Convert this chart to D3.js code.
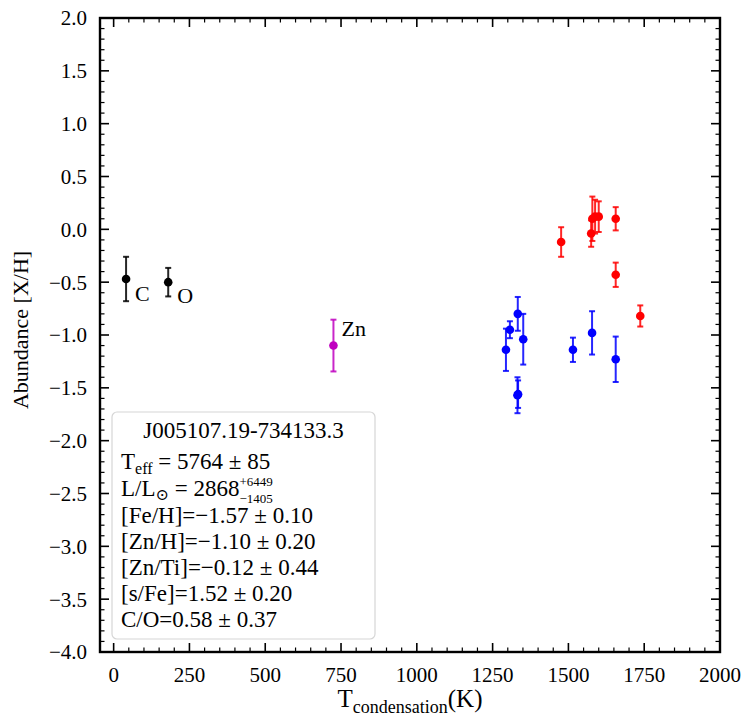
<!DOCTYPE html>
<html>
<head>
<meta charset="utf-8">
<script src="https://cdn.jsdelivr.net/npm/d3@7"></script>
<style>
  body { margin: 0; background: #fff; }
  text { font-family: "Liberation Serif", "DejaVu Serif", serif; fill: #000; }
</style>
</head>
<body>
<div id="chart"></div>
<script>
'use strict';

// C and O (black)
var blackT = [41, 180];
var blackAb = [-0.47, -0.50];
var blackErr = [0.21, 0.135];
var blackLabels = ['C', 'O'];

// Zn (magenta)
var znT = [725];
var znAb = [-1.10];
var znErr = [0.245];
var znLabels = ['Zn'];

// blue group
var blueT = [1294, 1307, 1333, 1351, 1332, 1334, 1515, 1578, 1656];
var blueAb = [-1.14, -0.95, -0.80, -1.04, -1.57, -1.56, -1.14, -0.98, -1.23];
var blueErr = [0.20, 0.08, 0.16, 0.24, 0.17, 0.13, 0.115, 0.205, 0.215];

// red group
var redT = [1476, 1575, 1579, 1588, 1600, 1656, 1656, 1737];
var redAb = [-0.12, -0.04, 0.10, 0.12, 0.12, 0.10, -0.43, -0.82];
var redErr = [0.14, 0.125, 0.21, 0.16, 0.145, 0.11, 0.115, 0.10];

var xTicks = [0, 250, 500, 750, 1000, 1250, 1500, 1750, 2000];
var yTicks = [2.0, 1.5, 1.0, 0.5, 0.0, -0.5, -1.0, -1.5, -2.0, -2.5, -3.0, -3.5, -4.0];

var W = 751, H = 725;
var margin = {top: 18, right: 31, bottom: 73, left: 100};
var width = W - margin.left - margin.right;
var height = H - margin.top - margin.bottom;

var svg = d3.select('#chart').append('svg')
  .attr('width', W)
  .attr('height', H);

var g = svg.append('g')
  .attr('transform', 'translate(' + margin.left + ',' + margin.top + ')');

var x = d3.scaleLinear().domain([-45, 2000]).range([0, width]);
var y = d3.scaleLinear().domain([-4, 2]).range([height, 0]);

var fmtY = function(d) { return d3.format('.1f')(d).replace('-', '\u2212'); };

// inward ticks on all four sides
function drawTicks() {
  var majorLen = 9, minorLen = 4.5;
  var xMinor = d3.range(0, 2001, 50).filter(function(d) { return d % 250 !== 0; });
  var yMinor = d3.range(-40, 21, 1).map(function(d) { return d / 10; })
    .filter(function(d) { return Math.abs(Math.round(d * 10) % 5) !== 0; });

  var t = g.append('g').attr('stroke', '#000');
  [[xTicks, majorLen, 1.6], [xMinor, minorLen, 1.2]].forEach(function(s) {
    t.selectAll(null).data(s[0]).enter().append('line')
      .attr('x1', x).attr('x2', x)
      .attr('y1', height).attr('y2', height - s[1])
      .attr('stroke-width', s[2]);
    t.selectAll(null).data(s[0]).enter().append('line')
      .attr('x1', x).attr('x2', x)
      .attr('y1', 0).attr('y2', s[1])
      .attr('stroke-width', s[2]);
  });
  [[yTicks, majorLen, 1.6], [yMinor, minorLen, 1.2]].forEach(function(s) {
    t.selectAll(null).data(s[0]).enter().append('line')
      .attr('y1', y).attr('y2', y)
      .attr('x1', 0).attr('x2', s[1])
      .attr('stroke-width', s[2]);
    t.selectAll(null).data(s[0]).enter().append('line')
      .attr('y1', y).attr('y2', y)
      .attr('x1', width).attr('x2', width - s[1])
      .attr('stroke-width', s[2]);
  });

  g.append('g').selectAll('text').data(xTicks).enter().append('text')
    .attr('x', x).attr('y', height + 30)
    .attr('text-anchor', 'middle')
    .style('font-size', '21px')
    .text(function(d) { return d; });

  g.append('g').selectAll('text').data(yTicks).enter().append('text')
    .attr('x', -13).attr('y', y).attr('dy', '0.35em')
    .attr('text-anchor', 'end')
    .style('font-size', '21px')
    .text(fmtY);
}

function drawGroup(ts, abs, errs, color) {
  var data = ts.map(function(t, i) { return {t: t, ab: abs[i], err: errs[i]}; });
  var grp = g.append('g');
  var bars = grp.selectAll('g.eb').data(data).enter().append('g')
    .attr('stroke', color).attr('stroke-width', 2).attr('stroke-opacity', 0.85);
  bars.append('line')
    .attr('x1', function(d) { return x(d.t); }).attr('x2', function(d) { return x(d.t); })
    .attr('y1', function(d) { return y(d.ab + d.err); })
    .attr('y2', function(d) { return y(d.ab - d.err); });
  [1, -1].forEach(function(s) {
    bars.append('line')
      .attr('x1', function(d) { return x(d.t) - 3; })
      .attr('x2', function(d) { return x(d.t) + 3; })
      .attr('y1', function(d) { return y(d.ab + s * d.err); })
      .attr('y2', function(d) { return y(d.ab + s * d.err); });
  });
  grp.selectAll('circle').data(data).enter().append('circle')
    .attr('cx', function(d) { return x(d.t); })
    .attr('cy', function(d) { return y(d.ab); })
    .attr('r', 4.3)
    .attr('fill', color);
  return data;
}

drawTicks();

drawGroup(blackT, blackAb, blackErr, '#000');
drawGroup(znT, znAb, znErr, '#bf00bf');
drawGroup(blueT, blueAb, blueErr, '#0000ff');
drawGroup(redT, redAb, redErr, '#ff0000');

// element labels
var labelOffsets = [[9, 22], [9, 21]];
g.selectAll('text.lab').data(blackLabels).enter().append('text')
  .attr('class', 'lab')
  .attr('x', function(d, i) { return x(blackT[i]) + labelOffsets[i][0]; })
  .attr('y', function(d, i) { return y(blackAb[i]) + labelOffsets[i][1]; })
  .style('font-size', '22px')
  .text(function(d) { return d; });
g.append('text')
  .attr('x', x(znT[0]) + 8).attr('y', y(znAb[0]) - 10)
  .style('font-size', '22px')
  .text(znLabels[0]);

// frame
g.append('rect')
  .attr('width', width).attr('height', height)
  .attr('fill', 'none').attr('stroke', '#000').attr('stroke-width', 2.4);

// axis titles
var xl = g.append('text')
  .attr('x', width / 2).attr('y', height + 55)
  .attr('text-anchor', 'middle')
  .style('font-size', '25px');
xl.append('tspan').text('T');
xl.append('tspan').attr('dy', 6).style('font-size', '18px').text('condensation');
xl.append('tspan').attr('dy', -6).text('(K)');

g.append('text')
  .attr('transform', 'translate(' + (-72) + ',' + (height / 2 - 5) + ') rotate(-90)')
  .attr('text-anchor', 'middle')
  .style('font-size', '22px')
  .text('Abundance [X/H]');

// info box
var bx = 12, by = 394, bw = 263, bh = 227;
var box = g.append('g').attr('transform', 'translate(' + bx + ',' + by + ')');
box.append('rect')
  .attr('width', bw).attr('height', bh)
  .attr('rx', 5).attr('ry', 5)
  .attr('fill', '#fff').attr('fill-opacity', 0.85)
  .attr('stroke', '#d6d6d6').attr('stroke-width', 1.2);

var fs = '23px', lx = 9;
box.append('text')
  .attr('x', bw / 2).attr('y', 26)
  .attr('text-anchor', 'middle')
  .style('font-size', fs)
  .text('J005107.19-734133.3');

var t1 = box.append('text').attr('x', lx).attr('y', 57).style('font-size', fs);
t1.append('tspan').text('T');
t1.append('tspan').attr('dy', 5).style('font-size', '16px').text('eff');
t1.append('tspan').attr('dy', -5).text(' = 5764 \u00b1 85');

var t2 = box.append('text').attr('x', lx).attr('y', 84).style('font-size', fs);
t2.append('tspan').text('L/L');
t2.append('tspan').attr('dy', 4).style('font-size', '16px').text('\u2299');
t2.append('tspan').attr('dy', -4).text(' = 2868');
t2.append('tspan').attr('dy', -10).style('font-size', '13px').text('+6449');
var sub = box.append('text').attr('y', 91).style('font-size', '13px').text('\u22121405');

var rest = [
  '[Fe/H]=\u22121.57 \u00b1 0.10',
  '[Zn/H]=\u22121.10 \u00b1 0.20',
  '[Zn/Ti]=\u22120.12 \u00b1 0.44',
  '[s/Fe]=1.52 \u00b1 0.20',
  'C/O=0.58 \u00b1 0.37'
];
box.selectAll('text.row').data(rest).enter().append('text')
  .attr('class', 'row')
  .attr('x', lx).attr('y', function(d, i) { return 111 + i * 26; })
  .style('font-size', fs)
  .text(function(d) { return d; });

// align the lower limit under the upper one
var node = t2.node();
sub.attr('x', node.getStartPositionOfChar(node.getNumberOfChars() - 5).x);
</script>
</body>
</html>
